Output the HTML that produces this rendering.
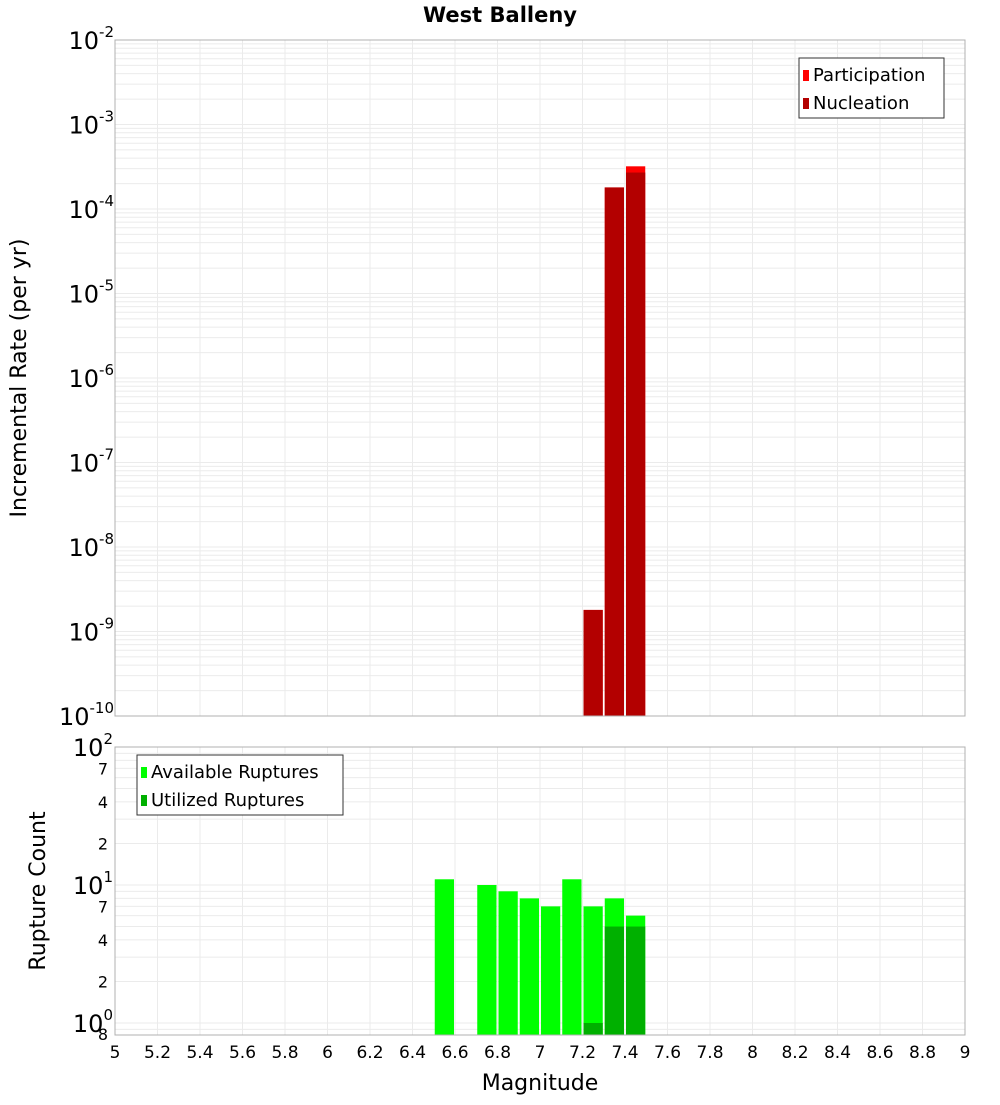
<!DOCTYPE html>
<html><head><meta charset="utf-8"><style>body{margin:0;background:#fff}svg{font-family:"DejaVu Sans","Liberation Sans",sans-serif}</style></head>
<body>
<svg id="c" width="1000" height="1100" xmlns="http://www.w3.org/2000/svg"></svg>
<script>
const binStarts=[7.2,7.3,7.4];
const participation=[1.8e-9,1.8e-4,3.2e-4];
const nucleation=[1.8e-9,1.8e-4,2.7e-4];
const countBins=[6.5,6.7,6.8,6.9,7.0,7.1,7.2,7.3,7.4];
const available=[11,10,9,8,7,11,7,8,6];
const utilizedBins=[7.2,7.3,7.4];
const utilized=[1,5,5];
const xTicks=[5,5.2,5.4,5.6,5.8,6,6.2,6.4,6.6,6.8,7,7.2,7.4,7.6,7.8,8,8.2,8.4,8.6,8.8,9];
const topExps=[-2,-3,-4,-5,-6,-7,-8,-9,-10];
const botLabels=[[100,"10","2"],[70,"7"],[40,"4"],[20,"2"],[10,"10","1"],[7,"7"],[4,"4"],[2,"2"],[1,"10","0"]];

const svg=document.getElementById('c');const NS='http://www.w3.org/2000/svg';
function el(t,a,txt,p){const e=document.createElementNS(NS,t);for(const k in a)e.setAttribute(k,a[k]);if(txt!=null)e.textContent=txt;(p||svg).appendChild(e);return e;}
const X0=115,X1=965;
const x=m=>X0+(m-5)/4*(X1-X0);
const T0=40,T1=716;const yT=v=>T0+(-2-Math.log10(v))*(T1-T0)/8;
const B0=747,B1=1035;const dec=138;const yB=v=>B0+(2-Math.log10(v))*dec;
const BIN=0.1;

const t=el('text',{x:500,y:22,'text-anchor':'middle','font-size':21,'font-weight':'bold'},'West Balleny');


function grid(top,bot,yf,lo,hi){
  for(let e=lo;e<hi;e++)for(let k=1;k<10;k++){const v=k*Math.pow(10,e);const yy=yf(v);if(yy<top-0.5||yy>bot+0.5)continue;
    const l=el('line',{x1:X0,x2:X1,y1:yy,y2:yy,stroke:'#ebebeb','stroke-width':1});}
  xTicks.forEach(m=>{const l=el('line',{x1:x(m),x2:x(m),y1:top,y2:bot,stroke:'#ebebeb','stroke-width':1});});
}
grid(T0,T1,yT,-10,-2);
grid(B0,B1,yB,-1,2);

binStarts.forEach((m,i)=>{
  const x0=x(m)+1,w=x(m+BIN)-x(m)-2;
  const p=el('rect',{x:x0,y:yT(participation[i]),width:w,height:T1-yT(participation[i]),fill:'#ff0000'});
  
  const n=el('rect',{x:x0,y:yT(nucleation[i]),width:w,height:T1-yT(nucleation[i]),fill:'#b30000'});
  
});
countBins.forEach((m,i)=>{
  const x0=x(m)+1,w=x(m+BIN)-x(m)-2;
  const r=el('rect',{x:x0,y:yB(available[i]),width:w,height:B1-yB(available[i]),fill:'#00ff00'});
  
});
utilizedBins.forEach((m,i)=>{
  const x0=x(m)+1,w=x(m+BIN)-x(m)-2;
  const r=el('rect',{x:x0,y:yB(utilized[i]),width:w,height:B1-yB(utilized[i]),fill:'#00b000'});
  
});

let f=el('rect',{x:X0,y:T0,width:X1-X0,height:T1-T0,fill:'none',stroke:'#b0b0b0'});
f=el('rect',{x:X0,y:B0,width:X1-X0,height:B1-B0,fill:'none',stroke:'#b0b0b0'});

topExps.forEach(e=>{const yy=yT(Math.pow(10,e));
  const g=el('text',{x:114,y:yy+9,'text-anchor':'end','font-size':24});
  el('tspan',{},'10',g);el('tspan',{dy:-12,'font-size':15},String(e),g);});
botLabels.forEach(b=>{const yy=yB(b[0]);
  if(b.length>2){const g=el('text',{x:113,y:yy+9,'text-anchor':'end','font-size':24});
    el('tspan',{},b[1],g);el('tspan',{dy:-12,'font-size':15},b[2],g);}
  else{const g=el('text',{x:108,y:yy+6,'text-anchor':'end','font-size':16},b[1]);}
});
let g8=el('text',{x:108,y:1040,'text-anchor':'end','font-size':16},'8');
xTicks.forEach(m=>{const g=el('text',{x:x(m),y:1058,'text-anchor':'middle','font-size':17},String(m));});

let a=el('text',{x:540,y:1090,'text-anchor':'middle','font-size':22},'Magnitude');
a=el('text',{x:0,y:0,'text-anchor':'middle','font-size':22,transform:'translate(26,378) rotate(-90)'},'Incremental Rate (per yr)');
a=el('text',{x:0,y:0,'text-anchor':'middle','font-size':22,transform:'translate(45,891) rotate(-90)'},'Rupture Count');

function legend(x0,y0,w,items,name){
  const lg=el('g',{});
  el('rect',{x:x0,y:y0,width:w,height:60,fill:'#fff',stroke:'#333'},null,lg);
  items.forEach((it,i)=>{el('rect',{x:x0+4,y:y0+12+i*28,width:6,height:11,fill:it[1]},null,lg);
    el('text',{x:x0+14,y:y0+23+i*28,'font-size':18},it[0],lg);});
}
legend(799,58,145,[['Participation','#ff0000'],['Nucleation','#b30000']],'top-legend');
legend(137,755,206,[['Available Ruptures','#00ff00'],['Utilized Ruptures','#00b000']],'bottom-legend');
</script>
</body></html>
